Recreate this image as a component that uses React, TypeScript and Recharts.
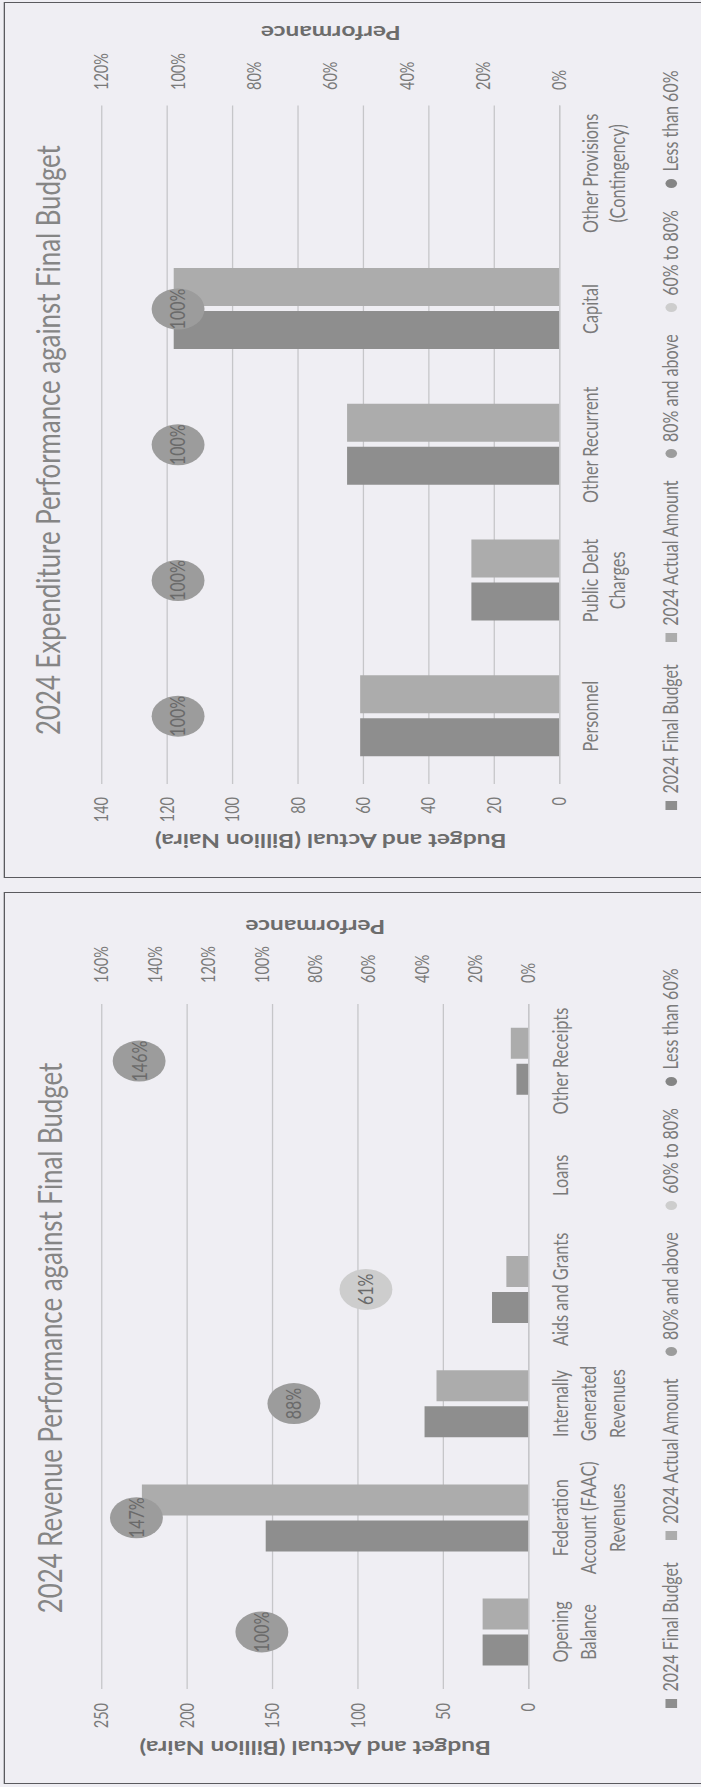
import React from 'react';
import { ComposedChart, Bar, Line, XAxis, YAxis, CartesianGrid, Legend, LabelList } from 'recharts';

// ---------- Data: Expenditure chart ----------
const expCategories = ['Personnel', 'Public Debt\nCharges', 'Other Recurrent', 'Capital', 'Other Provisions\n(Contingency)'];
const expBudget = [61, 27, 65, 118, 0];
const expActual = [61, 27, 65, 118, 0];
const expPerformance: (number | null)[] = [1.0, 1.0, 1.0, 1.0, null];
const expLeftTicks = [0, 20, 40, 60, 80, 100, 120, 140];
const expRightTicks = [0, 0.2, 0.4, 0.6, 0.8, 1.0, 1.2];

// ---------- Data: Revenue chart ----------
const revCategories = ['Opening\nBalance', 'Federation\nAccount (FAAC)\nRevenues', 'Internally\nGenerated\nRevenues', 'Aids and Grants', 'Loans', 'Other Receipts'];
const revBudget = [27, 154, 61, 21.5, 0, 7.2];
const revActual = [27, 226.5, 54, 13.1, 0, 10.5];
const revPerformance: (number | null)[] = [1.0, 1.47, 0.88, 0.61, null, 1.46];
const revLeftTicks = [0, 50, 100, 150, 200, 250];
const revRightTicks = [0, 0.2, 0.4, 0.6, 0.8, 1.0, 1.2, 1.4, 1.6];

const legendLabels = ['2024 Final Budget', '2024 Actual Amount', '80% and above', '60% to 80%', 'Less than 60%'];

// ---------- Styles ----------
const FONT = 'Lato';
const PAPER = '#efeef3';
const GRID = '#c6c6c9';
const TEXT = '#7a7a7a';
const AXIS_TITLE = '#6c6c6c';
const BUDGET_COLOR = '#8e8e8e';
const ACTUAL_COLOR = '#acacac';
const HIGH = '#9c9c9c';
const MID = '#cdcdcd';
const LOW = '#858585';
const STRETCH = 1.29;

const bandColor = (p: number) => (p >= 0.8 ? HIGH : p >= 0.6 ? MID : LOW);
const legendColors = [BUDGET_COLOR, ACTUAL_COLOR, HIGH, MID, LOW];

const build = (cats: string[], b: number[], a: number[], p: (number | null)[]) =>
  cats.map((c, i) => ({ cat: c, budget: b[i], actual: a[i], perf: p[i] }));

const expData = build(expCategories, expBudget, expActual, expPerformance);
const revData = build(revCategories, revBudget, revActual, revPerformance);

const pct = (v: number) => `${Math.round(v * 100)}%`;

const makeCategoryTick = (firstDy: number, lineH: number) => (props: any) => {
  const { x, y, payload } = props;
  const lines = String(payload.value).split('\n');
  return (
    <text x={x} y={y} textAnchor="middle" fill={TEXT} fontSize={16.3} fontFamily={FONT}>
      {lines.map((l, i) => (
        <tspan key={i} x={x} dy={i === 0 ? firstDy : lineH}>{l}</tspan>
      ))}
    </text>
  );
};

const renderBubble = (props: any) => {
  const { cx, cy, payload, index } = props;
  if (payload == null || payload.perf == null || cx == null || cy == null) return <g key={`b${index}`} />;
  return <circle key={`b${index}`} cx={cx} cy={cy} r={20.5} fill={bandColor(payload.perf)} />;
};

const renderBubbleLabel = (props: any) => {
  const vb = props.viewBox || {};
  const x0 = props.x ?? vb.x;
  const y0 = props.y ?? vb.y;
  const w = props.width ?? vb.width ?? 0;
  const h = props.height ?? vb.height ?? 0;
  const value = props.value;
  if (value == null || x0 == null || y0 == null) return null;
  return (
    <text x={x0 + (w || 0) / 2} y={y0 + (h || 0) / 2} dy="0.36em" textAnchor="middle" fontSize={16} fill="#6a6a6a" fontFamily={FONT}>
      {pct(Number(value))}
    </text>
  );
};

const renderLegend = () => (
  <div style={{ display: 'flex', justifyContent: 'center', alignItems: 'center', height: 20, lineHeight: '20px', fontFamily: FONT, fontSize: 16, color: TEXT, gap: 22.5, whiteSpace: 'nowrap' }}>
    {legendLabels.map((l, i) => (
      <span key={l} style={{ display: 'flex', alignItems: 'center' }}>
        <span style={{ display: 'inline-block', width: 9, height: 9, background: legendColors[i], borderRadius: i < 2 ? 0 : '50%', marginRight: 7 }} />
        {l}
      </span>
    ))}
  </div>
);

type ChartProps = {
  title: string;
  data: any[];
  W: number;
  H: number;
  left: number;
  top: number;
  leftW: number;
  rightW: number;
  xAxisH: number;
  leftMax: number;
  leftTicks: number[];
  rightMax: number;
  rightTicks: number[];
  leftMargin: number;
  rightMargin: number;
  leftTitleOffset: number;
  rightTitleOffset: number;
  firstDy: number;
  lineH: number;
  titleTop: number;
};

const LEGEND_H = 20;
const BOTTOM_GAP = 17;

function PerfChart(p: ChartProps) {
  return (
    <div
      style={{
        position: 'absolute',
        left: p.left,
        top: p.top,
        width: p.W,
        height: p.H,
        transformOrigin: '0 0',
        transform: `scaleX(${STRETCH}) rotate(-90deg)`,
        outline: '1.6px solid #5a5a5e',
      }}
    >
      <ComposedChart
        width={p.W}
        height={p.H}
        data={p.data}
        margin={{ top: 75, right: 0, bottom: BOTTOM_GAP + LEGEND_H, left: 0 }}
        barCategoryGap="20.5%"
        barGap={5}
      >
        <CartesianGrid vertical={false} yAxisId="left" stroke={GRID} strokeWidth={1} />
        <XAxis
          dataKey="cat"
          interval={0}
          tickLine={false}
          axisLine={{ stroke: GRID }}
          height={p.xAxisH}
          tick={makeCategoryTick(p.firstDy, p.lineH)}
        />
        <YAxis
          yAxisId="left"
          width={p.leftW}
          domain={[0, p.leftMax]}
          ticks={p.leftTicks}
          axisLine={false}
          tickLine={false}
          tickMargin={p.leftMargin}
          tick={{ fill: TEXT, fontSize: 14.5, fontFamily: FONT }}
          label={{
            value: 'Budget and Actual (Billion Naira)',
            angle: -90,
            position: 'insideLeft',
            offset: p.leftTitleOffset,
            style: { textAnchor: 'middle', fontWeight: 700, fontSize: 19, fill: AXIS_TITLE, fontFamily: FONT },
          }}
        />
        <YAxis
          yAxisId="right"
          orientation="right"
          width={p.rightW}
          domain={[0, p.rightMax]}
          ticks={p.rightTicks}
          axisLine={false}
          tickLine={false}
          tickMargin={p.rightMargin}
          tickFormatter={pct}
          tick={{ fill: TEXT, fontSize: 14.5, fontFamily: FONT }}
          label={{
            value: 'Performance',
            angle: -90,
            position: 'insideRight',
            offset: p.rightTitleOffset,
            style: { textAnchor: 'middle', fontWeight: 700, fontSize: 19, fill: AXIS_TITLE, fontFamily: FONT },
          }}
        />
        <Legend
          verticalAlign="middle"
          align="center"
          content={renderLegend}
          wrapperStyle={{ top: p.H - BOTTOM_GAP - LEGEND_H, left: 0, width: p.W, height: LEGEND_H, bottom: 'auto', right: 'auto' }}
        />
        <Bar yAxisId="left" dataKey="budget" name="2024 Final Budget" fill={BUDGET_COLOR} isAnimationActive={false} />
        <Bar yAxisId="left" dataKey="actual" name="2024 Actual Amount" fill={ACTUAL_COLOR} isAnimationActive={false} />
        <Line
          yAxisId="right"
          dataKey="perf"
          name="Performance"
          stroke="none"
          strokeWidth={0}
          dot={renderBubble}
          activeDot={false}
          isAnimationActive={false}
        >
          <LabelList dataKey="perf" content={renderBubbleLabel} />
        </Line>
      </ComposedChart>
      <div
        style={{
          position: 'absolute',
          left: 0,
          top: p.titleTop,
          width: p.W,
          textAlign: 'center',
          fontFamily: FONT,
          fontSize: 25.8,
          lineHeight: '25.8px',
          color: '#858585',
          whiteSpace: 'nowrap',
        }}
      >
        {p.title}
      </div>
    </div>
  );
}

export default function App() {
  return (
    <div style={{ position: 'fixed', left: 0, top: 0, width: 701, height: 1787, overflow: 'hidden', background: PAPER }}>
      <PerfChart
        title="2024 Expenditure Performance against Final Budget"
        data={expData}
        W={874}
        H={543}
        left={5}
        top={877}
        leftW={93}
        rightW={102.5}
        xAxisH={76}
        leftMax={140}
        leftTicks={expLeftTicks}
        rightMax={1.2}
        rightTicks={expRightTicks}
        leftMargin={7}
        rightMargin={9.5}
        leftTitleOffset={36}
        rightTitleOffset={30}
        firstDy={21.5}
        lineH={21}
        titleTop={21}
      />
      <PerfChart
        title="2024 Revenue Performance against Final Budget"
        data={revData}
        W={890}
        H={543}
        left={5}
        top={1783}
        leftW={94}
        rightW={111}
        xAxisH={100}
        leftMax={250}
        leftTicks={revLeftTicks}
        rightMax={1.6}
        rightTicks={revRightTicks}
        leftMargin={8}
        rightMargin={15}
        leftTitleOffset={35}
        rightTitleOffset={34}
        firstDy={22.5}
        lineH={22}
        titleTop={22}
      />
    </div>
  );
}
